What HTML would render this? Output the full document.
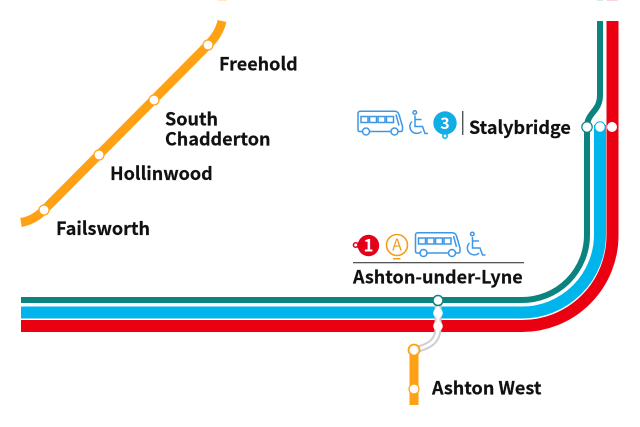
<!DOCTYPE html>
<html><head><meta charset="utf-8"><style>
html,body{margin:0;padding:0;background:#fff}
svg{display:block}
text{font-family:"Noto Sans CJK JP","Liberation Sans",sans-serif;font-weight:700;fill:#111;font-size:18px;stroke:#111;stroke-width:.2px}
text.w{stroke:none}
</style></head><body>
<svg width="640" height="427" viewBox="0 0 640 427" xmlns="http://www.w3.org/2000/svg">
<rect width="640" height="427" fill="#fff"/>
<rect x="218" y="0" width="9" height="1" fill="#ffe9c8"/>
<rect x="597" y="0" width="6" height="1" fill="#d5ecea"/>
<rect x="607" y="0" width="11" height="1" fill="#fbd5d8"/>
<g fill="none">
<path d="M414 350V405" stroke="#ffa114" stroke-width="9"/>
<path d="M21 300H522A65 65 0 0 0 587 235V127C587 112 600 112 600 95V21" stroke="#0b8480" stroke-width="6"/>
<path d="M21 312.500H522A78 78 0 0 0 600 234.500V125" stroke="#00b5ec" stroke-width="12"/>
<path d="M21 326H522A90.500 90.500 0 0 0 612.500 235.500V21" stroke="#ea0011" stroke-width="12"/>
<path d="M21 222.500C30 221 37 217 44 210L208 45C215 38 220 30 222 21" stroke="#ffa114" stroke-width="9"/>
<path d="M438 300V328C438 342 428 347 414 350" stroke="#cfcfcf" stroke-width="7"/>
<path d="M438 300V328C438 342 428 347 414 350" stroke="#fff" stroke-width="3"/>
</g>
<g fill="#fff" stroke="#ffa114" stroke-width="1.200">
<circle cx="44" cy="210" r="5"/><circle cx="99" cy="155" r="5"/><circle cx="154" cy="100" r="5"/><circle cx="208" cy="45" r="5"/>
<circle cx="414" cy="389" r="5"/>
</g>
<circle cx="414" cy="350" r="5.500" fill="#fff" stroke="#ffa114" stroke-width="1.800"/>
<circle cx="587" cy="127" r="5.200" fill="#fff" stroke="#0b8480" stroke-width="1.200"/>
<circle cx="600" cy="127" r="5.200" fill="#fff" stroke="#00b5ec" stroke-width="1"/>
<circle cx="612" cy="127" r="5" fill="#fff"/>
<circle cx="438" cy="300.500" r="5" fill="#fff" stroke="#0b8480" stroke-width="1.500"/>
<circle cx="438" cy="313" r="4.800" fill="#fff"/>
<circle cx="438" cy="326" r="4.800" fill="#fff"/>
<text x="219" y="70.500">Freehold</text>
<text x="165" y="125.500">South</text>
<text x="165" y="145.500">Chadderton</text>
<text x="110" y="180">Hollinwood</text>
<text x="56" y="235">Failsworth</text>
<text x="469" y="134">Stalybridge</text>
<text x="353" y="283.500">Ashton-under-Lyne</text>
<text x="432" y="394.500">Ashton West</text>
<rect x="353" y="262" width="171" height="1.300" fill="#555"/>
<rect x="462" y="111" width="1.400" height="24" fill="#555"/>
<g fill="none" stroke="#3d97e6" stroke-width="1.500">
<path d="M419.500 253H417Q415.500 253 415.500 251V235Q415.500 232.700 418 232.700H452Q455.500 232.700 456.500 236L460 248V251Q460 253 458 253H456M448 253H427.500"/>
<rect x="418.500" y="238" width="7" height="6"/><rect x="427" y="238" width="7" height="6"/><rect x="435.500" y="238" width="7" height="6"/><rect x="444" y="238" width="7" height="6"/>
<path d="M453.500 236L456.500 247"/>
<circle cx="423.500" cy="253" r="3.500"/><circle cx="452" cy="253" r="3.500"/>
<circle cx="472.300" cy="234" r="1.800"/>
<path d="M472.500 237V248H480L482.500 255H485.500"/><path d="M472.500 241H479"/><path d="M469.500 243A6.500 6.500 0 1 0 479 253"/>
<g transform="translate(-57.500 -121.500)">
<path d="M419.500 253H417Q415.500 253 415.500 251V235Q415.500 232.700 418 232.700H452Q455.500 232.700 456.500 236L460 248V251Q460 253 458 253H456M448 253H427.500"/>
<rect x="418.500" y="238" width="7" height="6"/><rect x="427" y="238" width="7" height="6"/><rect x="435.500" y="238" width="7" height="6"/><rect x="444" y="238" width="7" height="6"/>
<path d="M453.500 236L456.500 247"/>
<circle cx="423.500" cy="253" r="3.500"/><circle cx="452" cy="253" r="3.500"/>
<circle cx="472.300" cy="234" r="1.800"/>
<path d="M472.500 237V248H480L482.500 255H485.500"/><path d="M472.500 241H479"/><path d="M469.500 243A6.500 6.500 0 1 0 479 253"/>
</g>
</g>
<circle cx="445" cy="123" r="11.700" fill="#13ade6"/>
<path d="M440 132L445 137L450 132Z" fill="#13ade6"/>
<circle cx="445" cy="136" r="3" fill="#13ade6"/><circle cx="445" cy="136" r="1.500" fill="#fff"/>
<text class="w" x="445" y="129" text-anchor="middle" style="font-size:16px;fill:#fff">3</text>
<circle cx="368.500" cy="245.500" r="10.700" fill="#e5001a"/>
<path d="M359.500 241L355 245L359.500 250Z" fill="#e5001a"/>
<circle cx="355.700" cy="245" r="3" fill="#e5001a"/><circle cx="355.700" cy="245" r="1.500" fill="#fff"/>
<text class="w" x="368.500" y="251.500" text-anchor="middle" style="font-size:17px;fill:#fff">1</text>
<circle cx="397" cy="245" r="10.500" fill="none" stroke="#f59c1a" stroke-width="1.600"/>
<rect x="393" y="258" width="7.500" height="1.500" fill="#f59c1a"/>
<text class="w" x="397" y="250.500" text-anchor="middle" style="font-size:16px;fill:#f59c1a;font-weight:400">A</text>
</svg>
</body></html>
